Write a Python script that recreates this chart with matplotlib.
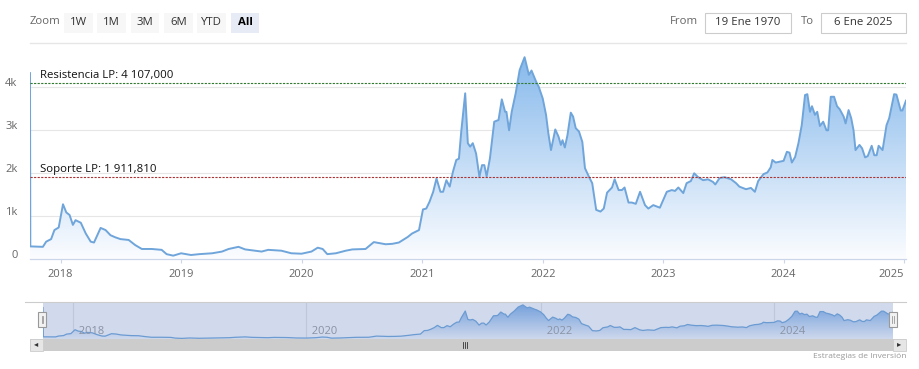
import matplotlib
matplotlib.use("Agg")
import matplotlib.pyplot as plt
import matplotlib.dates as mdates
import matplotlib.transforms as mtransforms
from matplotlib.patches import Rectangle, PathPatch
import numpy as np
import pandas as pd

# precio (USD)
dates = [
    "2017-09-30", "2017-10-01", "2017-11-08", "2017-11-18", "2017-12-03", "2017-12-13",
    "2017-12-26", "2018-01-08", "2018-01-18", "2018-01-28", "2018-02-07", "2018-02-15",
    "2018-03-03", "2018-03-18", "2018-04-02", "2018-04-12", "2018-05-02", "2018-05-17",
    "2018-06-01", "2018-06-16", "2018-07-01", "2018-07-26", "2018-08-15", "2018-09-04",
    "2018-10-04", "2018-11-03", "2018-11-18", "2018-12-08", "2019-01-01", "2019-01-31",
    "2019-02-25", "2019-04-05", "2019-05-05", "2019-05-25", "2019-06-24", "2019-07-14",
    "2019-09-02", "2019-09-22", "2019-11-01", "2019-12-01", "2020-01-01", "2020-01-31",
    "2020-02-19", "2020-03-05", "2020-03-19", "2020-04-14", "2020-05-14", "2020-06-03",
    "2020-07-13", "2020-08-07", "2020-09-12", "2020-10-02", "2020-10-22", "2020-11-18",
    "2020-12-01", "2020-12-22", "2021-01-03", "2021-01-13", "2021-01-23", "2021-02-03",
    "2021-02-13", "2021-02-25", "2021-03-05", "2021-03-15", "2021-03-25", "2021-04-04",
    "2021-04-14", "2021-04-22", "2021-04-29", "2021-05-11", "2021-05-19", "2021-05-26",
    "2021-06-03", "2021-06-13", "2021-06-23", "2021-07-01", "2021-07-08", "2021-07-15",
    "2021-07-25", "2021-08-07", "2021-08-20", "2021-08-30", "2021-09-09", "2021-09-13",
    "2021-09-21", "2021-09-29", "2021-10-11", "2021-10-23", "2021-11-07", "2021-11-20",
    "2021-11-28", "2021-12-05", "2021-12-12", "2021-12-20", "2022-01-01", "2022-01-11",
    "2022-01-18", "2022-01-26", "2022-02-08", "2022-02-18", "2022-02-25", "2022-03-02",
    "2022-03-09", "2022-03-17", "2022-03-27", "2022-04-03", "2022-04-11", "2022-04-21",
    "2022-05-01", "2022-05-09", "2022-05-21", "2022-05-31", "2022-06-12", "2022-06-25",
    "2022-07-05", "2022-07-15", "2022-07-30", "2022-08-07", "2022-08-19", "2022-08-29",
    "2022-09-06", "2022-09-18", "2022-09-28", "2022-10-10", "2022-10-23", "2022-11-07",
    "2022-11-17", "2022-12-02", "2022-12-22", "2023-01-12", "2023-01-27", "2023-02-06",
    "2023-02-16", "2023-03-03", "2023-03-13", "2023-03-26", "2023-04-05", "2023-04-17",
    "2023-05-02", "2023-05-17", "2023-06-01", "2023-06-08", "2023-06-21", "2023-07-06",
    "2023-07-26", "2023-08-10", "2023-08-20", "2023-09-09", "2023-09-24", "2023-10-06",
    "2023-10-16", "2023-11-01", "2023-11-13", "2023-11-23", "2023-11-28", "2023-12-08",
    "2024-01-01", "2024-01-11", "2024-01-19", "2024-01-26", "2024-02-05", "2024-02-15",
    "2024-02-25", "2024-03-06", "2024-03-13", "2024-03-21", "2024-03-27", "2024-04-05",
    "2024-04-12", "2024-04-20", "2024-04-30", "2024-05-10", "2024-05-15", "2024-05-23",
    "2024-06-02", "2024-06-11", "2024-06-19", "2024-07-01", "2024-07-07", "2024-07-16",
    "2024-07-24", "2024-07-31", "2024-08-06", "2024-08-18", "2024-08-26", "2024-09-04",
    "2024-09-12", "2024-09-24", "2024-10-02", "2024-10-09", "2024-10-15", "2024-10-27",
    "2024-11-08", "2024-11-16", "2024-12-01", "2024-12-08", "2024-12-21", "2024-12-26",
    "2025-01-06",
]
prices = [
    4330, 300, 290, 410, 470, 680,
    740, 1280, 1090, 1030, 800, 910,
    850, 600, 410, 390, 730, 680,
    560, 510, 470, 450, 330, 240,
    240, 220, 120, 85, 140, 100,
    120, 140, 180, 240, 290, 230,
    180, 220, 200, 140, 130, 180,
    270, 240, 120, 140, 200, 230,
    240, 400, 350, 360, 390, 520,
    600, 680, 1160, 1180, 1340, 1570,
    1880, 1570, 1570, 1840, 1690, 2040,
    2310, 2340, 2970, 3860, 2700, 2620,
    2700, 2460, 1920, 2190, 2190, 1930,
    2350, 3200, 3240, 3720, 3430, 3430,
    3000, 3430, 3860, 4400, 4700, 4290,
    4390, 4260, 4130, 4010, 3740, 3360,
    2930, 2540, 3020, 2850, 2660, 2770,
    2600, 2890, 3410, 3320, 3050, 2970,
    2730, 2120, 1920, 1770, 1150, 1110,
    1180, 1550, 1670, 1860, 1610, 1610,
    1670, 1320, 1320, 1290, 1570, 1260,
    1180, 1260, 1200, 1570, 1610, 1590,
    1670, 1540, 1770, 1820, 2000, 1910,
    1840, 1860, 1800, 1740, 1890, 1910,
    1860, 1770, 1690, 1630, 1660, 1570,
    1820, 1980, 2020, 2140, 2310, 2250,
    2290, 2500, 2480, 2250, 2380, 2700,
    3120, 3820, 3840, 3430, 3560, 3360,
    3430, 3100, 3200, 3000, 3000, 3780,
    3780, 3560, 3490, 3320, 3160, 3470,
    3280, 3000, 2540, 2660, 2580, 2370,
    2400, 2640, 2420, 2420, 2640, 2540,
    3120, 3280, 3840, 3830, 3460, 3460,
    3690,
]

resistance = 4107.0
support = 1911.81
resistance_label = "Resistencia LP: 4 107,000"
support_label = "Soporte LP: 1 911,810"

y_ticks = [0, 1000, 2000, 3000, 4000]
y_tick_labels = ["0", "1k", "2k", "3k", "4k"]
year_ticks = ["2018", "2019", "2020", "2021", "2022", "2023", "2024", "2025"]
nav_years = ["2018", "2020", "2022", "2024"]
buttons = ["1W", "1M", "3M", "6M", "YTD", "All"]

W, H = 920, 369
plt.rcParams['font.family'] = ['Open Sans', 'DejaVu Sans']

fig = plt.figure(figsize=(W / 100, H / 100), dpi=100)


def rect_px(x0, y0, x1, y1):
    """caja en pixeles (origen arriba-izquierda) -> coords de figura"""
    return [x0 / W, 1 - y1 / H, (x1 - x0) / W, (y1 - y0) / H]


def fx(x):
    return x / W


def fy(y):
    return 1 - y / H


def gradient_area(ax, x, y, top_rgb, ymax, line_color, lw):
    poly = ax.fill_between(x, y, 0, facecolor='none', edgecolor='none')
    path = poly.get_paths()[0]
    patch = PathPatch(path, transform=ax.transData, facecolor='none', edgecolor='none')
    ax.add_patch(patch)
    t = np.linspace(0, 1, 256).reshape(-1, 1)
    bottom = np.array([0.985, 0.99, 1.0])
    top = np.array(top_rgb)
    img = bottom + (top - bottom) * t[..., None]
    im = ax.imshow(img, origin='lower', aspect='auto', interpolation='bicubic',
                   extent=[x[0], x[-1], 0, ymax], zorder=1)
    im.set_clip_path(patch)
    ax.plot(x, y, color=line_color, lw=lw, zorder=3, solid_joinstyle='round')


xd = mdates.date2num(pd.to_datetime(dates))

# ---- grafico principal ----
ax = fig.add_axes(rect_px(30, 48, 906, 259.3))
ymax = 4914
gradient_area(ax, xd, np.array(prices), (0.50, 0.71, 0.92), 5000, '#6fa5da', 1.4)
ax.set_xlim(xd[0], xd[-1])
ax.set_ylim(0, ymax)

ax.set_yticks(y_ticks)
ax.set_yticklabels(y_tick_labels)
ax.grid(axis='y', color='#e6e6e6', lw=0.8, zorder=0)
ax.set_axisbelow(True)
for s in ['top', 'right', 'left']:
    ax.spines[s].set_visible(False)
ax.spines['bottom'].set_color('#ccd6eb')
ax.spines['bottom'].set_linewidth(0.9)
ax.tick_params(axis='y', length=0, pad=9, labelsize=8, labelcolor='#666666')
ax.tick_params(axis='x', length=3, width=0.8, color='#ccd6eb', pad=4,
               labelsize=8, labelcolor='#666666')
off = mtransforms.ScaledTranslation(0, 0.05, fig.dpi_scale_trans)
for lab in ax.get_yticklabels():
    lab.set_transform(lab.get_transform() + off)

xt = mdates.date2num(pd.to_datetime([y + "-01-01" for y in year_ticks]))
ax.set_xticks(xt)
ax.set_xticklabels(year_ticks)
ax.get_xticklabels()[-1].set_horizontalalignment('right')

ax.axhline(resistance, color='#2f7a2f', lw=0.8, ls=(0, (2, 1.2)), zorder=4)
ax.axhline(support, color='#a83434', lw=0.8, ls=(0, (2, 1.2)), zorder=4)
tx = xd[0] + (xd[-1] - xd[0]) * 9.5 / 876
ax.text(tx, resistance + 50, resistance_label, fontsize=8.2, color='#111111',
        va='bottom', zorder=5)
ax.text(tx, support + 50, support_label, fontsize=8.2, color='#111111',
        va='bottom', zorder=5)

# ---- selector de rango ----
fig.text(fx(30), fy(22), "Zoom", fontsize=8.2, color='#666666', va='center')
bx = [(64, 93), (97, 126), (131, 159), (164, 193), (197, 226), (231, 259)]
for (x0, x1), b in zip(bx, buttons):
    sel = b == "All"
    fig.patches.append(Rectangle((fx(x0), fy(33)), (x1 - x0) / W, 20 / H,
                                 transform=fig.transFigure,
                                 facecolor='#e6ebf5' if sel else '#f7f7f7',
                                 edgecolor='none'))
    fig.text(fx((x0 + x1) / 2), fy(22.5), b, fontsize=8.2, ha='center', va='center',
             color='#000000' if sel else '#333333',
             fontweight='bold' if sel else 'normal')

fig.text(fx(698), fy(22), "From", fontsize=8.2, color='#666666', ha='right', va='center')
fig.text(fx(814), fy(22), "To", fontsize=8.2, color='#666666', ha='right', va='center')
for (x0, x1), s in zip([(705, 791), (821, 906)], ["19 Ene 1970", "6 Ene 2025"]):
    fig.patches.append(Rectangle((fx(x0), fy(33)), (x1 - x0) / W, 20 / H,
                                 transform=fig.transFigure, facecolor='white',
                                 edgecolor='#cccccc', lw=0.8))
    fig.text(fx((x0 + x1) / 2), fy(22.5), s, fontsize=8.2, ha='center', va='center',
             color='#333333')

fig.add_artist(plt.Line2D([fx(30), fx(906)], [fy(43.3), fy(43.3)],
                          transform=fig.transFigure, color='#e6e6e6', lw=1))

# ---- navegador ----
fig.add_artist(plt.Line2D([fx(25), fx(906)], [fy(302), fy(302)],
                          transform=fig.transFigure, color='#cccccc', lw=0.8))
nav = fig.add_axes(rect_px(43, 302, 893, 339))
gradient_area(nav, xd, np.array(prices), (0.45, 0.66, 0.90), 5100, '#6fa5da', 0.9)
nav.set_xlim(xd[0], xd[-1])
nav.set_ylim(0, 5100)
nav.axis('off')
for yr in nav_years:
    xv = mdates.date2num(pd.Timestamp(yr + "-01-01"))
    nav.axvline(xv, color='#e6e6e6', lw=0.8, zorder=0.5)
    nav.text(xv, 0.2, "  " + yr, transform=nav.get_xaxis_transform(), fontsize=8,
             color='#999999', va='center', ha='left', zorder=4)
nav.add_patch(Rectangle((0, 0), 1, 1, transform=nav.transAxes,
                        facecolor=(102 / 255, 133 / 255, 194 / 255, 0.3),
                        edgecolor='none', zorder=5))

for hx in [42.5, 893]:
    fig.patches.append(Rectangle((fx(hx - 4), fy(327)), 8 / W, 15 / H,
                                 transform=fig.transFigure, facecolor='#f2f2f2',
                                 edgecolor='#999999', lw=0.8, zorder=6))
    for dx in (-1, 1):
        fig.add_artist(plt.Line2D([fx(hx + dx), fx(hx + dx)], [fy(316), fy(323)],
                                  transform=fig.transFigure, color='#999999', lw=0.6,
                                  zorder=7))

# barra de desplazamiento
fig.patches.append(Rectangle((fx(30), fy(351)), 876 / W, 12 / H,
                             transform=fig.transFigure, facecolor='#cccccc',
                             edgecolor='none'))
for x0 in [30, 893]:
    fig.patches.append(Rectangle((fx(x0), fy(351)), 13 / W, 12 / H,
                                 transform=fig.transFigure, facecolor='#e6e6e6',
                                 edgecolor='#cccccc', lw=0.6))
fig.text(fx(36.5), fy(345), "◂", fontsize=6, ha='center', va='center', color='#333333')
fig.text(fx(899.5), fy(345), "▸", fontsize=6, ha='center', va='center', color='#333333')
for dx in (-2, 0, 2):
    fig.add_artist(plt.Line2D([fx(465 + dx), fx(465 + dx)], [fy(342), fy(348)],
                              transform=fig.transFigure, color='#333333', lw=0.6))

fig.text(fx(906), fy(357), "Estrategias de Inversión", fontsize=6, color='#999999',
         ha='right', va='center')

fig.savefig("out.png", dpi=100, facecolor='white')
